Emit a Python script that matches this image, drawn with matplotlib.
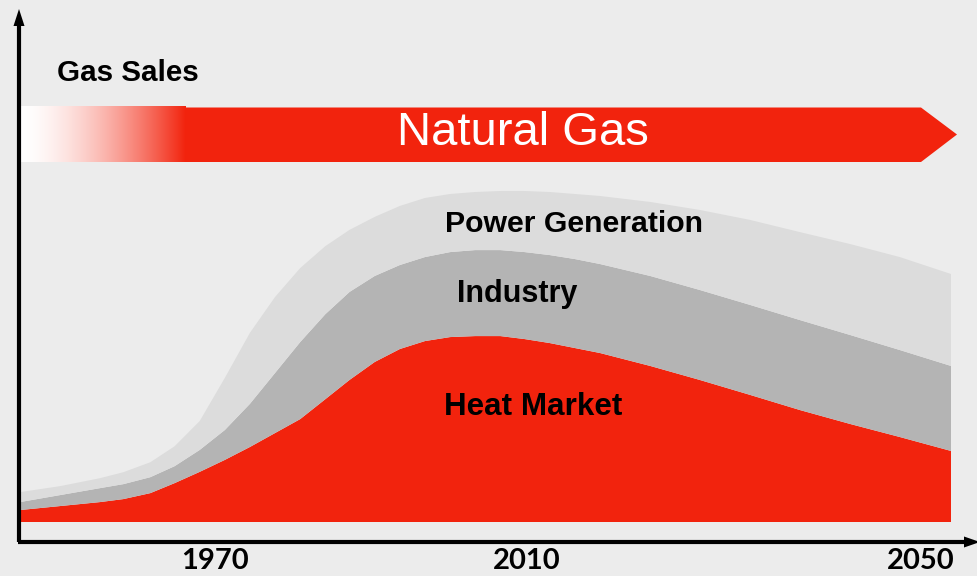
import numpy as np
import matplotlib
matplotlib.use("Agg")
import matplotlib.pyplot as plt
from matplotlib.patches import Polygon

# ---- data (schematic gas sales, stacked) ----
pos = [0, 4.3, 8.6, 11.1, 14.0, 16.6, 19.3, 22.0, 24.7, 27.4, 30.1, 32.8, 35.4,
       38.1, 40.8, 43.5, 46.2, 48.9, 51.6, 54.2, 56.9, 59.6, 62.3, 67.7, 73.0,
       78.4, 83.8, 89.2, 94.5, 100]
heat_market = [3.6, 4.8, 6.0, 6.9, 8.7, 11.7, 15.1, 18.7, 22.6, 26.8, 31.0, 37.0,
               42.8, 48.2, 52.1, 54.5, 55.7, 56.0, 56.0, 55.1, 53.9, 52.4, 50.9,
               47.0, 42.8, 38.3, 33.7, 29.5, 25.6, 21.4]
industry = [2.4, 3.3, 4.2, 4.5, 4.8, 5.1, 6.6, 9.0, 13.0, 18.1, 23.2, 25.6, 26.5,
            25.9, 25.3, 25.3, 25.6, 25.9, 25.9, 26.2, 26.5, 26.8, 26.8, 27.1,
            27.1, 27.1, 27.1, 26.8, 26.2, 25.6]
power_generation = [3.0, 2.7, 3.0, 3.6, 4.5, 6.0, 8.7, 15.7, 21.4, 22.9, 22.3,
                    20.5, 18.7, 17.8, 17.8, 17.8, 17.5, 17.5, 17.8, 18.4, 19.0,
                    19.6, 20.5, 22.3, 24.1, 25.6, 26.5, 27.4, 28.0, 27.7]
tick_pos = [20.9, 54.4, 96.7]
tick_labels = ["1970", "2010", "2050"]
series_labels = ["Heat Market", "Industry", "Power Generation"]

RED = "#F2230D"
GRAY_D = "#B4B4B4"
GRAY_L = "#DCDCDC"
BG = "#ECECEC"

W, H = 978, 576
fig = plt.figure(figsize=(W / 100, H / 100), dpi=100, facecolor=BG)

# main data axes: x 0..100 spans px 20..951 ; y 0 at px 522, 3.32 px per unit
sx = 9.31
sy = 3.32
ax = fig.add_axes([0, 0, 1, 1])
ax.set_facecolor(BG)
ax.set_xlim(-20 / sx, (W - 20) / sx)
ax.set_ylim(-(H - 522) / sy, 522 / sy)
ax.axis("off")
ax.stackplot(pos, heat_market, industry, power_generation,
             colors=[RED, GRAY_D, GRAY_L], linewidth=0, zorder=2)

# decoration overlay in pixel coordinates
deco = fig.add_axes([0, 0, 1, 1])
deco.set_xlim(0, W)
deco.set_ylim(H, 0)
deco.axis("off")
deco.patch.set_alpha(0)

# banner: gradient part
n = 300
t = np.linspace(0, 1, n) ** 1.6
red_rgb = np.array(matplotlib.colors.to_rgb(RED))
grad = np.ones((1, n, 3)) * (1 - t)[None, :, None] + red_rgb[None, None, :] * t[None, :, None]
deco.imshow(grad, extent=(21, 186, 162.5, 107), aspect="auto", interpolation="bilinear", zorder=3)
deco.add_patch(Polygon([(185, 107.5), (921, 107.5), (957, 134.5), (921, 162), (185, 162)],
                       closed=True, facecolor=RED, edgecolor="none", zorder=3))
deco.text(523, 133, "Natural Gas", color="white", fontsize=34, family="Liberation Sans",
          ha="center", va="center", zorder=4)

# axes with arrows
deco.plot([19, 19], [542, 22], color="black", lw=3, solid_capstyle="butt", zorder=5)
deco.add_patch(Polygon([(19, 9), (24.5, 26), (13.5, 26)], closed=True,
                       facecolor="black", edgecolor="none", zorder=5))
deco.plot([17.5, 966], [542, 542], color="black", lw=3, solid_capstyle="butt", zorder=5)
deco.add_patch(Polygon([(980, 542), (964, 536.5), (964, 547.5)], closed=True,
                       facecolor="black", edgecolor="none", zorder=5))

# texts
deco.text(57, 73, "Gas Sales", fontsize=21.3, fontweight="bold", family="Liberation Sans",
          ha="left", va="center", zorder=6)
for p, lab in zip(tick_pos, tick_labels):
    ax.text(p, -(561 - 522) / sy, lab, fontsize=21, fontweight="bold", family="Lato",
            ha="center", va="center", zorder=6)

label_pos = [(55.1, (522 - 407) / sy), (53.4, (522 - 294) / sy), (59.5, (522 - 224) / sy)]
label_size = [22.6, 22, 21.8]
for (lx, ly), lab, fs in zip(label_pos, series_labels, label_size):
    ax.text(lx, ly, lab, fontsize=fs, fontweight="bold", family="Liberation Sans",
            ha="center", va="center", zorder=6)

fig.savefig("out.png", dpi=100, facecolor=BG)
